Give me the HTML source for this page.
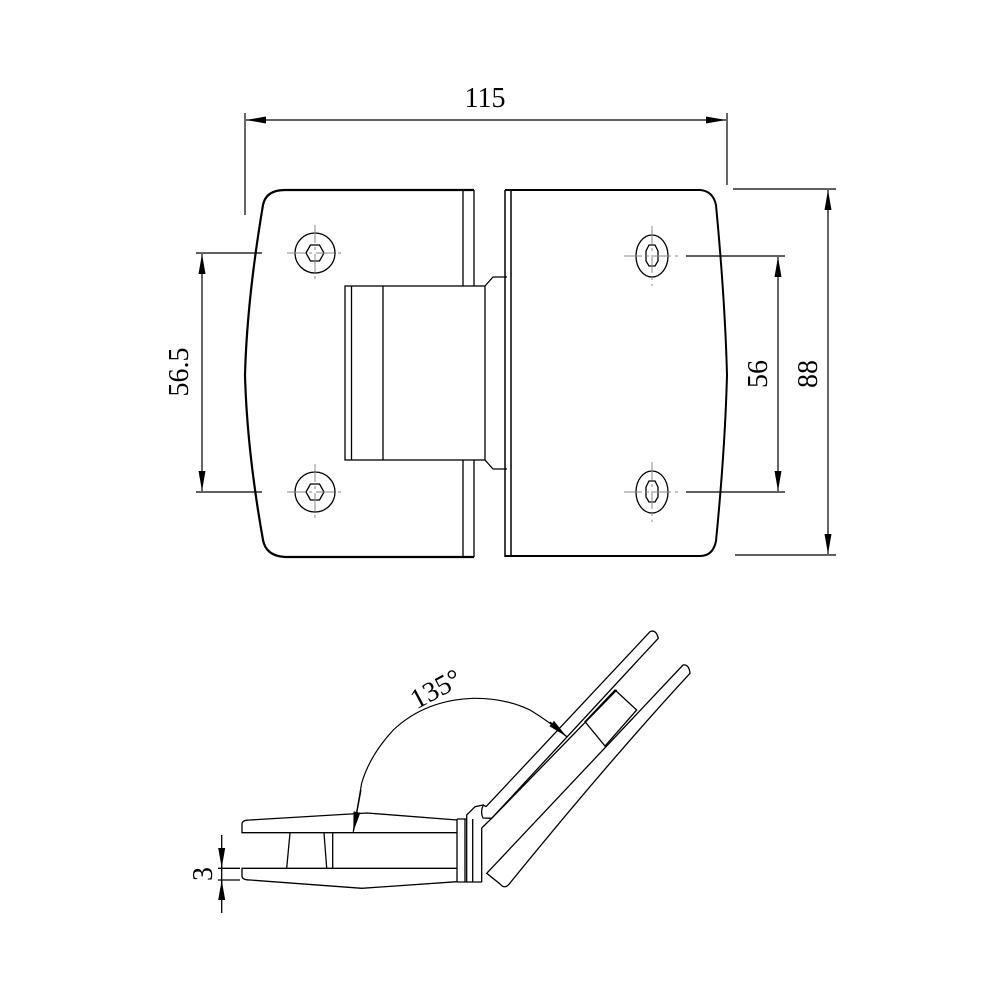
<!DOCTYPE html>
<html><head><meta charset="utf-8"><style>
html,body{margin:0;padding:0;background:#fff;}
svg{display:block;}
text{font-family:"Liberation Serif",serif;fill:#000;}
</style></head><body>
<svg width="1000" height="1000" viewBox="0 0 1000 1000" xmlns="http://www.w3.org/2000/svg">
<defs>
<marker id="b" viewBox="0 0 20 8" refX="20" refY="4" markerWidth="20" markerHeight="8" markerUnits="userSpaceOnUse" orient="auto-start-reverse"><path d="M0,0.5 L20,4 L0,7.5 Z" fill="#000"/></marker>
</defs>
<g fill="none" stroke="#000" stroke-width="1.3">
<path d="M474,190 L285,190 Q266,190 263,205 Q247,300 245,375 Q247,450 263,540 Q266,556 285,557 L474,557" stroke-width="2.2"/>
<path d="M474,190 L474,286 M474,460 L474,557 M463,190 L463,286 M463,460 L463,557"/>
<rect x="345" y="286" width="140" height="174"/>
<path d="M351.5,286 V460 M383,286 V460"/>
<path d="M485,286 L493,277 L507,277 M485,460 L493,469 L507,469"/>
<path d="M505,190 L505,557 M511,190 L511,557" stroke-width="1.5"/>
<path d="M505,190 L700,190 Q713,191 716,205 Q725,300 727,375 Q725,450 716,541 Q713,556 700,556 L505,556" stroke-width="2"/>
<circle cx="315" cy="253" r="20"/><path d="M306,253 L310.5,245 L319.5,245 L324,253 L319.5,261 L310.5,261 Z"/>
<circle cx="315" cy="492" r="20"/><path d="M306,492 L310.5,484 L319.5,484 L324,492 L319.5,500 L310.5,500 Z"/>
<ellipse cx="652" cy="256" rx="16" ry="21"/><path d="M646,251 L649,245 L655,245 L658,251 L658,261 L655,266 L649,266 L646,261 Z"/>
<ellipse cx="652" cy="492" rx="16" ry="21"/><path d="M646,487 L649,481 L655,481 L658,487 L658,497 L655,502 L649,502 L646,497 Z"/>
</g>
<g stroke="#888" stroke-width="1" stroke-dasharray="18,4,3,4">
<path d="M287,253 H343 M315,225 V281 M287,492 H343 M315,464 V520"/>
<path d="M624,256 H680 M652,226 V286 M624,492 H680 M652,462 V522"/>
</g>
<g fill="none" stroke="#000" stroke-width="1.2">
<path d="M245,113 V215 M727,113 V185"/>
<path d="M246,120 H726" marker-start="url(#b)" marker-end="url(#b)"/>
<path d="M196,253 H262 M196,492 H262"/>
<path d="M202,254 V491" marker-start="url(#b)" marker-end="url(#b)"/>
<path d="M686,256 H785 M686,492 H785"/>
<path d="M778,257 V491" marker-start="url(#b)" marker-end="url(#b)"/>
<path d="M733,189 H836 M735,555 H836"/>
<path d="M828,190 V554" marker-start="url(#b)" marker-end="url(#b)"/>
</g>
<text x="485" y="107" font-size="28" text-anchor="middle">115</text>
<text transform="translate(188,372) rotate(-90)" font-size="28" text-anchor="middle">56.5</text>
<text transform="translate(767,374) rotate(-90)" font-size="28" text-anchor="middle">56</text>
<text transform="translate(817,374) rotate(-90)" font-size="28" text-anchor="middle">88</text>
<g fill="none" stroke="#000" stroke-width="1.3">
<path d="M457,820 L367,813 L250,820 Q242,820 242,824 L242,832.7 L457,832.7"/>
<path d="M457,868.3 L242,868.3 L242,876 Q242,880 250,880 L362,888.3 L457,881.7"/>
<path d="M290,833 L286.7,868 M324,833 L326.7,868 M332.7,833 V868"/>
<path d="M457,819 V882 M465,819 V882 M472.7,819 V882"/>
<path d="M457,819 L466.7,819 L466.7,815 L475,806.7 L483.3,805 L486,806.7 M466.7,815 V882 M481.7,828 V882 M457,882 H482"/>
<path d="M483.3,805 Q480,812 483,818 L491.7,818.3"/>
<path d="M481.7,828 L491.7,818.3"/>
<path d="M486,806.7 L650,631.7 Q656,629 658.3,638.3 L491.7,818.3"/>
<path d="M491.7,818.3 L616.7,690"/>
<path d="M615,690 L636.7,710 L605,746 L585,721.7 Z"/>
<path d="M486.7,873.3 L683,665 Q689,664 690,673.3 Q610,760 510,883 Q505,890 500,884 Z"/>
<path d="M221.7,835 V913"/>
<path d="M218,868.3 H240 M218,880 H240"/>
</g>
<path d="M221.7,850 V868" fill="none" stroke="#000" stroke-width="1.2" marker-end="url(#b)"/>
<path d="M221.7,898 V880" fill="none" stroke="#000" stroke-width="1.2" marker-end="url(#b)"/>
<path d="M353.3,831.7 L361.7,783 Q370,755 393.3,730 Q425,700 473.3,698.3 Q505,698 530,710 Q550,722 566.7,736.7" fill="none" stroke="#000" stroke-width="1.2"/>
<path d="M361,790 L353.3,831.7" fill="none" stroke="#000" stroke-width="1.2" marker-end="url(#b)"/>
<path d="M550,722 L566.7,736.7" fill="none" stroke="#000" stroke-width="1.2" marker-end="url(#b)"/>
<text transform="translate(440,697) rotate(-28)" font-size="28" text-anchor="middle">135°</text>
<text transform="translate(212,874) rotate(-90)" font-size="28" text-anchor="middle">3</text>
</svg>
</body></html>
